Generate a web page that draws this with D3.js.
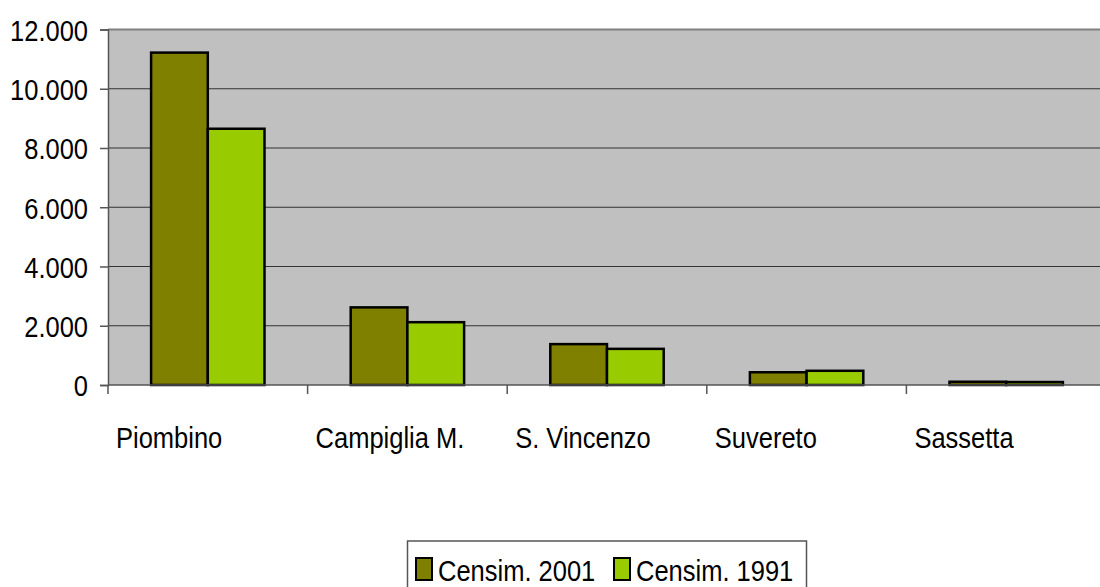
<!DOCTYPE html>
<head>
    <meta charset="utf-8">
    <script src="https://d3js.org/d3.v7.min.js"></script>
    <style>
        body { margin: 0; background: #fff; }
        svg text { font-family: 'Liberation Sans', Arial, sans-serif; fill: #000; }
    </style>
</head>
<body>
<div id="my_dataviz"></div>
<script>
    // data
    var comuni = ["Piombino", "Campiglia M.", "S. Vincenzo", "Suvereto", "Sassetta"];
    var censim2001 = [11220, 2620, 1380, 430, 110];
    var censim1991 = [8650, 2120, 1220, 480, 100];
    var serie = ["Censim. 2001", "Censim. 1991"];
    var colori = ["#808000", "#99CC00"];
    var yTicks = [0, 2000, 4000, 6000, 8000, 10000, 12000];

    var width = 1100, height = 587;
    var plot = { left: 108, top: 29.5, bottom: 385, right: 1106 };
    var squeeze = 0.85; // narrow-looking text

    var svg = d3.select("#my_dataviz")
        .append("svg")
        .attr("width", width)
        .attr("height", height);

    var x = d3.scaleBand()
        .domain(comuni)
        .range([plot.left, plot.right]);

    var xInner = d3.scaleBand()
        .domain(serie)
        .range([0, x.bandwidth()])
        .paddingOuter(0.76)
        .paddingInner(0);

    var y = d3.scaleLinear()
        .domain([0, 12000])
        .range([plot.bottom, plot.top]);

    // grey plot background
    svg.append("rect")
        .attr("x", plot.left)
        .attr("y", plot.top)
        .attr("width", plot.right - plot.left)
        .attr("height", plot.bottom - plot.top)
        .style("fill", "#C0C0C0");

    // gridlines
    svg.append("g")
        .selectAll("line")
        .data(yTicks.filter(function (d) { return d > 0 && d < 12000; }))
        .enter()
        .append("line")
        .attr("x1", plot.left)
        .attr("x2", plot.right)
        .attr("y1", function (d) { return y(d); })
        .attr("y2", function (d) { return y(d); })
        .style("stroke", "#333")
        .style("stroke-width", 1.2);

    // top border of plot
    svg.append("line")
        .attr("x1", plot.left).attr("x2", plot.right)
        .attr("y1", plot.top).attr("y2", plot.top)
        .style("stroke", "#808080").style("stroke-width", 2);

    // Y axis
    var yAxis = svg.append("g")
        .attr("transform", "translate(" + plot.left + ",0)")
        .call(d3.axisLeft(y)
            .tickValues(yTicks)
            .tickSize(8)
            .tickPadding(15.5)
            .tickFormat(function (d) { return d3.format(",")(d).replace(/,/g, "."); }));
    yAxis.select(".domain").style("stroke", "#555").style("stroke-width", 1.5);
    yAxis.selectAll(".tick line").style("stroke", "#555").style("stroke-width", 1.5);
    yAxis.selectAll("text")
        .style("font-size", "30px")
        .attr("dy", "0.36em")
        .attr("transform", "scale(" + squeeze + ",1)");

    // bars
    var series = [censim2001, censim1991];
    var groups = svg.append("g")
        .selectAll("g")
        .data(comuni)
        .enter()
        .append("g")
        .attr("transform", function (d) { return "translate(" + x(d) + ",0)"; });

    groups.selectAll("rect")
        .data(function (d, i) {
            return serie.map(function (s, j) { return { key: s, value: series[j][i], color: colori[j] }; });
        })
        .enter()
        .append("rect")
        .attr("x", function (d) { return xInner(d.key); })
        .attr("width", xInner.bandwidth())
        .attr("y", function (d) { return y(d.value); })
        .attr("height", function (d) { return y(0) - y(d.value); })
        .style("fill", function (d) { return d.color; })
        .style("stroke", "#000")
        .style("stroke-width", 2.5);

    // X axis
    var xAxis = svg.append("g")
        .attr("transform", "translate(0," + plot.bottom + ")");
    xAxis.append("line")
        .attr("x1", plot.left).attr("x2", plot.right)
        .style("stroke", "#555").style("stroke-width", 1.5);
    xAxis.selectAll(".xtick")
        .data(comuni)
        .enter()
        .append("line")
        .attr("x1", function (d) { return x(d); })
        .attr("x2", function (d) { return x(d); })
        .attr("y1", 0).attr("y2", 9)
        .style("stroke", "#555").style("stroke-width", 1.5);
    xAxis.selectAll(".xlabel")
        .data(comuni)
        .enter()
        .append("text")
        .attr("transform", function (d) { return "translate(" + (x(d) + 8) + ",63) scale(" + squeeze + ",1)"; })
        .style("font-size", "30px")
        .text(function (d) { return d; });

    // legend
    var legend = svg.append("g");
    legend.append("rect")
        .attr("x", 407.5).attr("y", 541)
        .attr("width", 399).attr("height", 60)
        .style("fill", "#fff")
        .style("stroke", "#555").style("stroke-width", 1.5);
    var items = legend.selectAll(".item")
        .data(serie)
        .enter()
        .append("g")
        .attr("transform", function (d, i) { return "translate(" + (416 + i * 198) + ",0)"; });
    items.append("rect")
        .attr("x", 0).attr("y", 558)
        .attr("width", 16).attr("height", 22)
        .style("fill", function (d, i) { return colori[i]; })
        .style("stroke", "#000").style("stroke-width", 2);
    items.append("text")
        .attr("transform", "translate(22,581) scale(" + squeeze + ",1)")
        .style("font-size", "30px")
        .text(function (d) { return d; });
</script>
</body>
